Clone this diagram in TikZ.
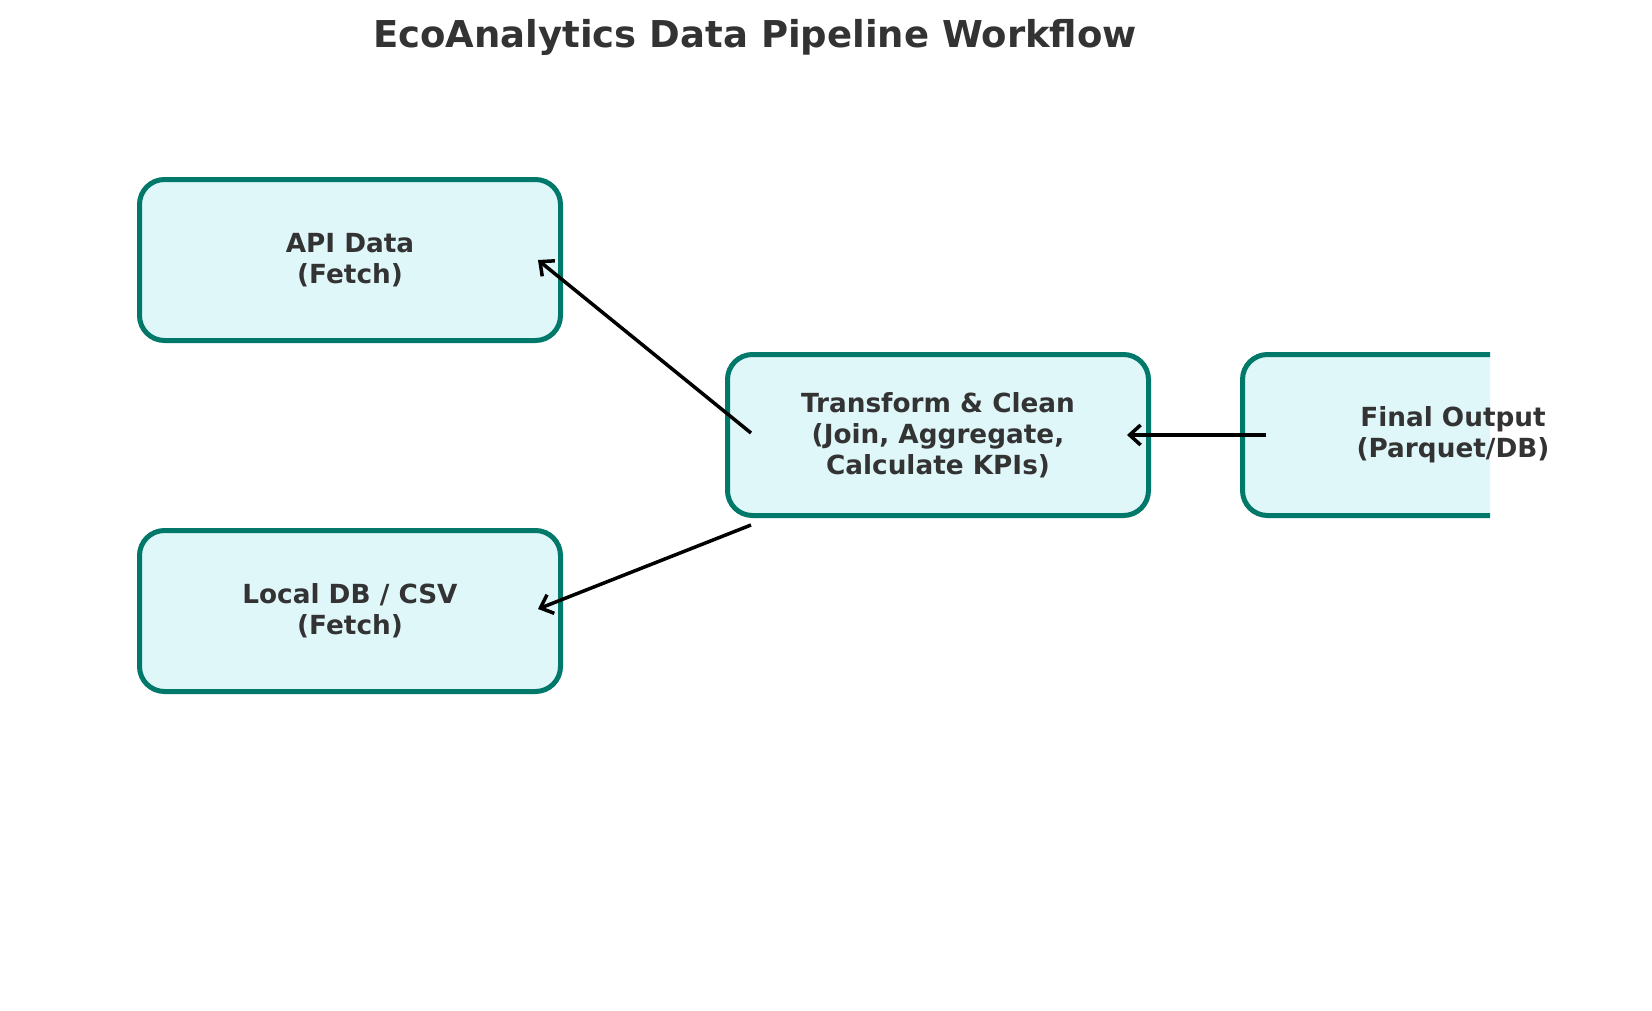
\documentclass[tikz,border=0pt]{standalone}
\usepackage{fontspec}
\setmainfont{DejaVu Sans}
\usepackage{tikz}
\usetikzlibrary{arrows.meta}

\definecolor{boxline}{HTML}{00796B}
\definecolor{boxfill}{HTML}{E0F7FA}
\definecolor{darktext}{HTML}{333333}

\begin{document}
\begin{tikzpicture}[x=1pt, y=-1pt,
  stage/.style={draw=boxline, fill=boxfill, line width=5pt, rounded corners=25pt,
    minimum width=421pt, minimum height=161pt, inner sep=0pt},
  label/.style={text=darktext, font=\bfseries\fontsize{26.3}{31}\selectfont, align=center},
  flow/.style={-{Straight Barb[length=11pt,width=20pt]}, line width=3.5pt, black}]

\useasboundingbox (0,0) rectangle (1652,1010);

\node[text=darktext, font=\bfseries\fontsize{37}{44}\selectfont] (title) at (755,37) {EcoAnalytics Data Pipeline Workflow};

\node[stage, label] (api) at (350,260) {API Data\\(Fetch)};
\node[stage, label] (local) at (350,611) {Local DB / CSV\\(Fetch)};
\node[stage, label] (trans) at (938,435) {Transform \& Clean\\(Join, Aggregate,\\Calculate KPIs)};

\begin{scope}
\clip (0,0) rectangle (1490,1010);
\node[stage] (outbox) at (1453,435) {};
\end{scope}
\node[label] (final) at (outbox.center) {Final Output\\(Parquet/DB)};

\draw[flow] ([xshift=26pt,yshift=2pt]trans.west) -- ([xshift=-25pt]api.east);
\draw[flow] ([xshift=26pt,yshift=-7pt]trans.south west) -- ([xshift=-25pt,yshift=2pt]local.east);
\draw[flow] ([xshift=26pt]outbox.west) -- ([xshift=-24pt]trans.east);

\end{tikzpicture}
\end{document}
